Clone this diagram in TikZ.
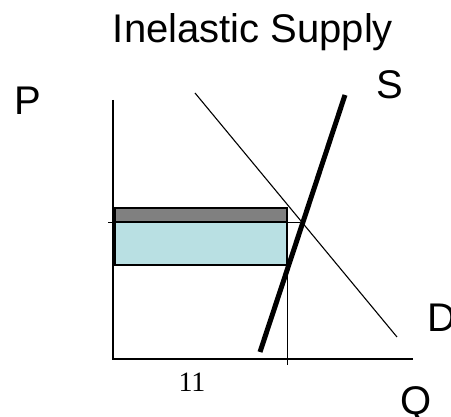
\documentclass[tikz,border=0pt]{standalone}
\usepackage{fontspec}
\setmainfont{Liberation Sans}
\newfontfamily\serifnum{Liberation Serif}
\usepackage{tikz}
\usetikzlibrary{positioning}
\definecolor{capgray}{HTML}{808080}
\definecolor{paleblue}{HTML}{B9E0E3}
\tikzset{
    axisline/.style={draw=black,line width=1.1pt},
    guideline/.style={draw=black,line width=0.8pt},
    demandline/.style={draw=black,line width=1.1pt},
    supplyline/.style={draw=black,line width=5pt,line cap=butt},
    capbox/.style={fill=capgray,draw=black,line width=1.4pt},
    revbox/.style={fill=paleblue,draw=black,line width=1.4pt},
    biglabel/.style={inner sep=0pt,anchor=base,font=\fontsize{40}{48}\selectfont},
    ticklabel/.style={inner sep=0pt,anchor=base,font=\serifnum\fontsize{28}{32}\selectfont}
}
\begin{document}
\begin{tikzpicture}[x=1pt,y=-1pt]
  \useasboundingbox (0,0) rectangle (451,417);
  \coordinate (origin) at (113,359);
  \coordinate (ptop) at (113,100);
  \coordinate (qend) at (413,359);
  \coordinate (dtop) at (195,93);
  \coordinate (dbot) at (397,337);
  \coordinate (sbot) at (260,352);
  \coordinate (stop) at (345,95);
  \coordinate (pleft) at (108,222);
  \coordinate (eqpt) at (300,222);
  \coordinate (qtop) at (287,208);
  \coordinate (qbot) at (287,365);
  \filldraw[capbox] (115,208) rectangle (287,222);
  \filldraw[revbox] (115,222) rectangle (287,265);
  \draw[axisline] (ptop) -- (origin) -- (qend);
  \draw[guideline] (pleft) -- (eqpt);
  \draw[guideline] (qtop) -- (qbot);
  \draw[demandline] (dtop) -- (dbot);
  \draw[supplyline] (sbot) -- (stop);
  \node[biglabel] (title) at (253,43) {Inelastic Supply};
  \node[biglabel] (plabel) at (27.5,115) {P};
  \node[biglabel] (slabel) at (390,99) {S};
  \node[biglabel] (dlabel) at (442,332) {D};
  \node[biglabel] (qlabel) at (416,415) {Q};
  \node[ticklabel] (qtick) at (192,392) {11};
\end{tikzpicture}
\end{document}
